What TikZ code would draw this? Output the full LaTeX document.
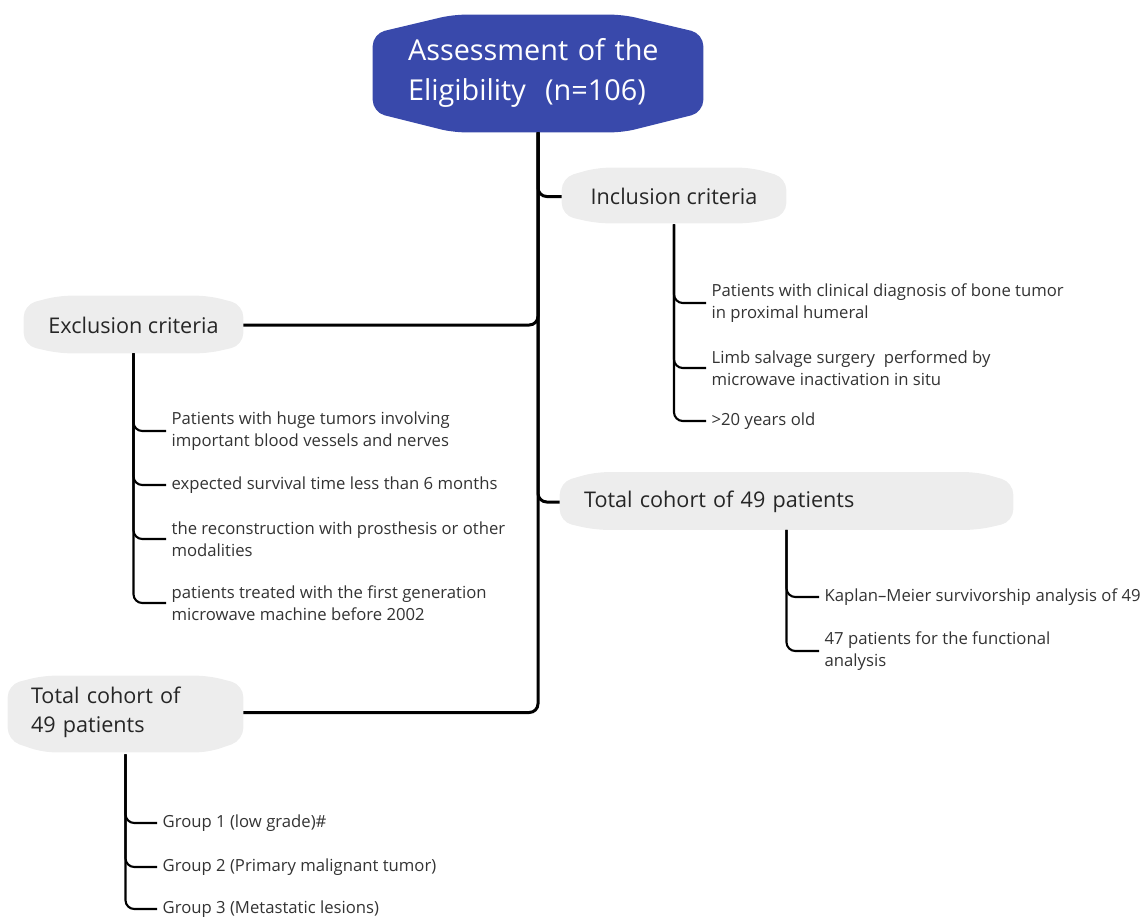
\documentclass[tikz,border=0pt]{standalone}
\usepackage{fontspec}
\setmainfont{Open Sans}
\usetikzlibrary{calc,backgrounds}
\definecolor{titleblue}{HTML}{3949AB}
\definecolor{boxgray}{HTML}{EDEDED}
\definecolor{txt}{HTML}{333333}
\definecolor{txtdark}{HTML}{262626}
\newcommand\blobfill[5]{% node, top bulge, bottom bulge, slant, colour
  \fill[#5, rounded corners=7pt] (#1.north west) -- ($(#1.north west)+(#4,-#2)$) -- ($(#1.north east)+(-#4,-#2)$) -- (#1.north east) -- (#1.south east) -- ($(#1.south east)+(-#4,#3)$) -- ($(#1.south west)+(#4,#3)$) -- (#1.south west) -- cycle;}
\tikzset{
  titlebox/.style={inner xsep=0.7cm, inner ysep=0pt, text width=5.2cm, align=left, minimum width=6.6cm, minimum height=1.56cm, text=white, font=\fontsize{16.4}{22.7}\selectfont},
  graybox/.style={inner sep=0pt, align=center, text=txtdark, font=\fontsize{12.3}{16.4}\selectfont},
  leaf/.style={anchor=west, inner xsep=3pt, inner ysep=1pt, align=left, text=txt, font=\fontsize{9.5}{12.5}\selectfont},
  conn/.style={draw=black, line width=1.7pt, rounded corners=5pt},
  subconn/.style={draw=black, line width=1.2pt, rounded corners=5pt}
}
\begin{document}
\begin{tikzpicture}[x=0.02cm,y=-0.02cm]
\useasboundingbox (0,0) rectangle (1142,917);
% main nodes
\node[titlebox] (title) at (538,73) {Assessment of the\\Eligibility\ \ (n=106)};
\node[graybox, minimum width=4.48cm, minimum height=0.74cm] (incl) at (674,196.5) {Inclusion criteria};
\node[graybox, minimum width=4.38cm, minimum height=0.8cm] (excl) at (133.5,325) {Exclusion criteria};
\node[graybox, minimum width=9.06cm, minimum height=0.78cm, inner xsep=0.48cm, text width=8.1cm, align=left] (cohortR) at (786.5,502) {Total cohort of 49 patients};
\node[graybox, minimum width=4.7cm, minimum height=1.1cm, inner xsep=0.46cm, text width=3.78cm, align=left] (cohortL) at (125.5,712.5) {Total cohort of\\49 patients};
% leaves
\node[leaf] (i1) at (706,303) {Patients with clinical diagnosis of bone tumor\\in proximal humeral};
\node[leaf] (i2) at (706,368) {Limb salvage surgery\ \ performed by\\microwave inactivation in situ};
\node[leaf] (i3) at (706,421) {>20 years old};
\node[leaf] (e1) at (166,431) {Patients with huge tumors involving\\important blood vessels and nerves};
\node[leaf] (e2) at (166,485) {expected survival time less than 6 months};
\node[leaf] (e3) at (166,539) {the reconstruction with prosthesis or other\\modalities};
\node[leaf] (e4) at (166,603) {patients treated with the first generation\\microwave machine before 2002};
\node[leaf] (r1) at (819,597) {Kaplan–Meier survivorship analysis of 49};
\node[leaf] (r2) at (819,651) {47 patients for the functional\\analysis};
\node[leaf] (g1) at (157,823) {Group 1 (low grade)\#};
\node[leaf] (g2) at (157,867) {Group 2 (Primary malignant tumor)};
\node[leaf] (g3) at (157,909) {Group 3 (Metastatic lesions)};
% box backgrounds
\begin{scope}[on background layer]
\blobfill{title}{19}{20}{80}{titleblue}
\blobfill{incl}{10}{8}{35}{boxgray}
\blobfill{excl}{9}{8}{35}{boxgray}
\blobfill{cohortR}{10}{8}{35}{boxgray}
\blobfill{cohortL}{9}{12}{35}{boxgray}
\end{scope}
% main connectors
\draw[conn] ($(title.south)+(0,20)$) |- (incl.west);
\draw[conn] ($(title.south)+(0,20)$) |- (excl.east);
\draw[conn] ($(title.south)+(0,20)$) |- (cohortR.west);
\draw[conn] ($(title.south)+(0,20)$) |- (cohortL.east);
% sub connectors
\foreach \l in {i1,i2,i3} \draw[subconn] ($(incl.south)+(0,9)$) |- (\l.west);
\foreach \l in {e1,e2,e3,e4} \draw[subconn] ($(excl.south)+(0,8)$) |- (\l.west);
\foreach \l in {r1,r2} \draw[subconn] ($(cohortR.south)+(0,8)$) |- (\l.west);
\foreach \l in {g1,g2,g3} \draw[subconn] ($(cohortL.south)+(0,14)$) |- (\l.west);
\end{tikzpicture}
\end{document}
